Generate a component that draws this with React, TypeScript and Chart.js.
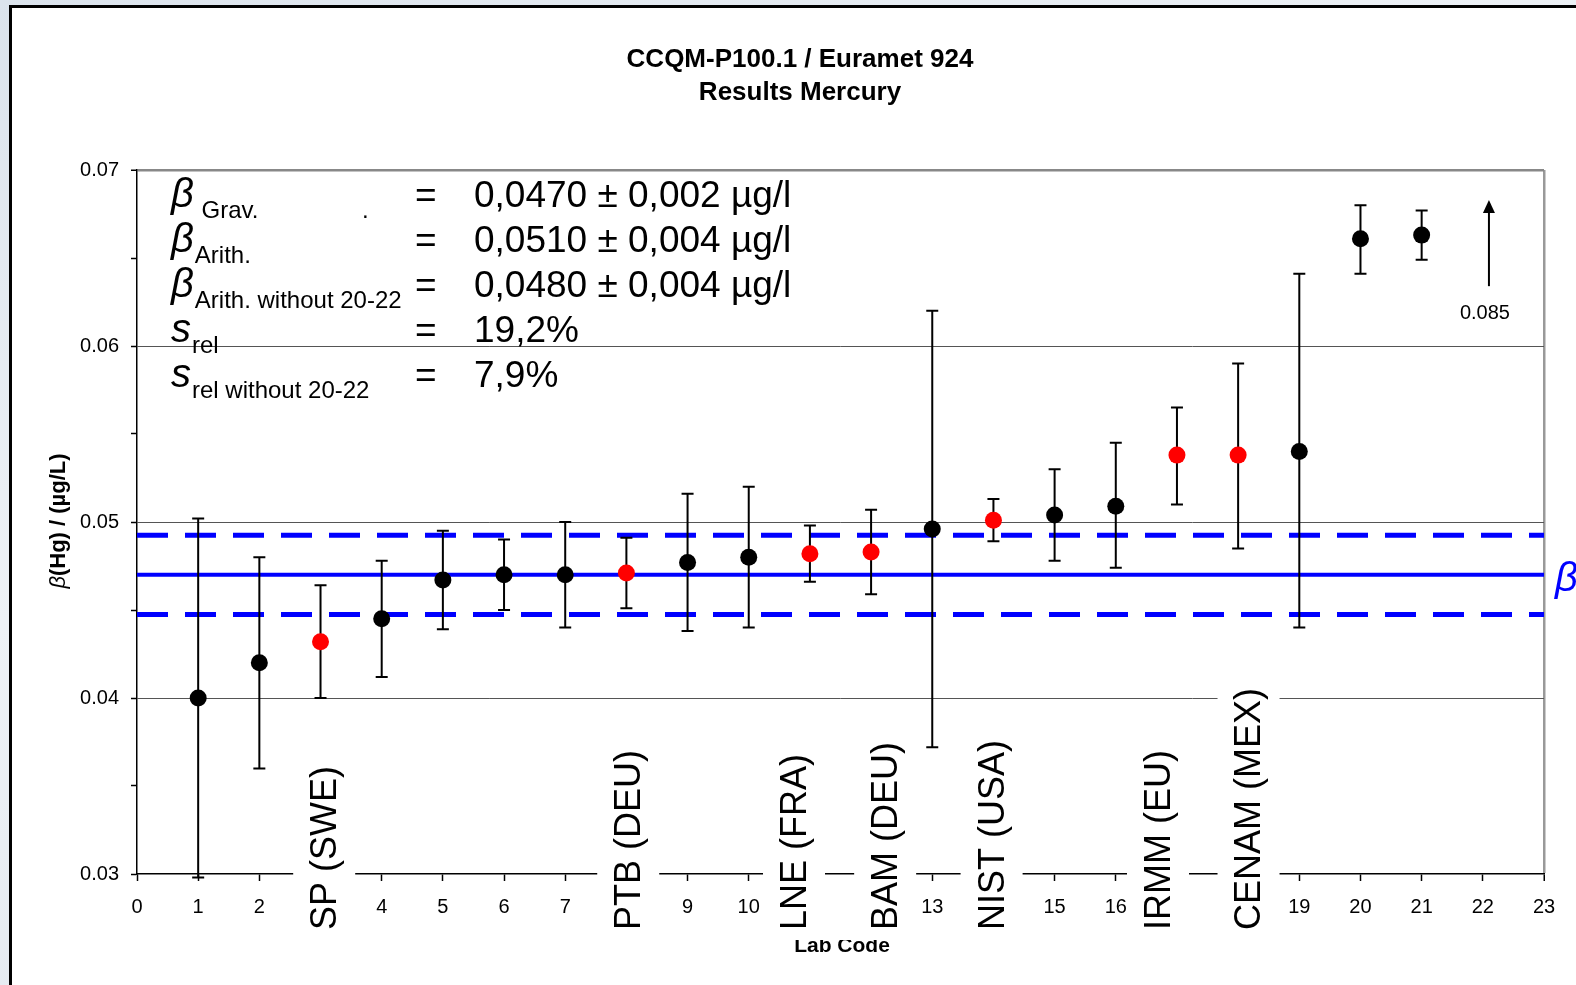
import React, { useEffect, useRef } from 'react';
import { Chart, registerables } from 'chart.js';

Chart.register(...registerables);

// ---------- data ----------
const labCodes = [1, 2, 3, 4, 5, 6, 7, 8, 9, 10, 11, 12, 13, 14, 15, 16, 17, 18, 19, 20, 21];
const results = [0.0400, 0.0420, 0.0432, 0.0445, 0.0467, 0.0470, 0.0470, 0.0471, 0.0477, 0.0480, 0.0482,
  0.0483, 0.0496, 0.0501, 0.0504, 0.0509, 0.0538, 0.0538, 0.0540, 0.0661, 0.0663];
const upperLimits = [0.0502, 0.0480, 0.0464, 0.0478, 0.0495, 0.0490, 0.0500, 0.0491, 0.0516, 0.0520, 0.0498,
  0.0507, 0.0620, 0.0513, 0.0530, 0.0545, 0.0565, 0.0590, 0.0641, 0.0680, 0.0677];
const lowerLimits = [0.0298, 0.0360, 0.0400, 0.0412, 0.0439, 0.0450, 0.0440, 0.0451, 0.0438, 0.0440, 0.0466,
  0.0459, 0.0372, 0.0489, 0.0478, 0.0474, 0.0510, 0.0485, 0.0440, 0.0641, 0.0649];
const highlightedLabs = [3, 8, 11, 12, 14, 17, 18];

const refValue = 0.0470;
const refUpper = 0.04925;
const refLower = 0.04475;

const yTickValues = [0.03, 0.04, 0.05, 0.06, 0.07];
const yTickLabels = ['0.03', '0.04', '0.05', '0.06', '0.07'];

const labNames = ['SP (SWE)', 'PTB (DEU)', 'LNE (FRA)', 'BAM (DEU)', 'NIST (USA)', 'IRMM (EU)', 'CENAM (MEX)'];
const labNameX = [3.06, 8.03, 10.74, 12.23, 13.97, 16.69, 18.17];

const arrowX = 22.1;
const arrowFrom = 0.0634;
const arrowTo = 0.0683;
const arrowLabel = '0.085';

const titleLines = ['CCQM-P100.1 / Euramet 924', 'Results Mercury'];
const xAxisTitle = 'Lab Code';
const yAxisTitleSymbol = 'β';
const yAxisTitleRest = '(Hg) / (µg/L)';
const refSymbol = 'β';

const summarySymbols = ['β', 'β', 'β', 's', 's'];
const summarySubs = [' Grav.', 'Arith.', 'Arith. without 20-22', 'rel', 'rel without 20-22'];
const summaryValues = ['0,0470 ± 0,002 µg/l', '0,0510 ± 0,004 µg/l', '0,0480 ± 0,004 µg/l', '19,2%', '7,9%'];

const FONT = '"Liberation Sans", Arial, sans-serif';

const isMajor = (v: number) => Math.round(v * 1000) % 10 === 0;

const overlayPlugin = {
  id: 'overlay',
  beforeDatasetDraw(chart: any, args: any) {
    if (args.index !== 0) return;
    const { ctx } = chart;
    const x = chart.scales.x;
    const y = chart.scales.y;
    ctx.save();
    ctx.strokeStyle = '#000';
    ctx.lineWidth = 2;
    labCodes.forEach((c, i) => {
      const px = x.getPixelForValue(c);
      const yt = y.getPixelForValue(upperLimits[i]);
      const yb = y.getPixelForValue(lowerLimits[i]);
      ctx.beginPath();
      ctx.moveTo(px, yt);
      ctx.lineTo(px, yb);
      ctx.moveTo(px - 6, yt);
      ctx.lineTo(px + 6, yt);
      ctx.moveTo(px - 6, yb);
      ctx.lineTo(px + 6, yb);
      ctx.stroke();
    });
    ctx.restore();
  },
  afterDraw(chart: any) {
    const { ctx } = chart;
    const x = chart.scales.x;
    const y = chart.scales.y;
    ctx.save();

    // title
    ctx.fillStyle = '#000';
    ctx.textAlign = 'center';
    ctx.textBaseline = 'middle';
    ctx.font = `bold 26px ${FONT}`;
    ctx.fillText(titleLines[0], 800, 60);
    ctx.fillText(titleLines[1], 800, 93);

    // summary block
    ctx.textAlign = 'left';
    ctx.textBaseline = 'alphabetic';
    summarySymbols.forEach((sym, r) => {
      const base = 207 + 45 * r;
      ctx.font = `italic 40px ${FONT}`;
      ctx.fillText(sym, 171, base);
      const symW = ctx.measureText(sym).width;
      ctx.font = `24px ${FONT}`;
      ctx.fillText(summarySubs[r], 171 + symW + 1, base + 11);
      ctx.font = `37px ${FONT}`;
      ctx.fillText('=', 415, base);
      ctx.fillText(summaryValues[r], 474, base);
    });
    ctx.font = `24px ${FONT}`;
    ctx.fillText('.', 362, 218);

    // arrow
    const ax = x.getPixelForValue(arrowX);
    const ay1 = y.getPixelForValue(arrowFrom);
    const ay2 = y.getPixelForValue(arrowTo);
    ctx.strokeStyle = '#000';
    ctx.lineWidth = 2;
    ctx.beginPath();
    ctx.moveTo(ax, ay1);
    ctx.lineTo(ax, ay2 + 12);
    ctx.stroke();
    ctx.beginPath();
    ctx.moveTo(ax, ay2);
    ctx.lineTo(ax - 6, ay2 + 13);
    ctx.lineTo(ax + 6, ay2 + 13);
    ctx.closePath();
    ctx.fillStyle = '#000';
    ctx.fill();
    ctx.font = `20px ${FONT}`;
    ctx.textAlign = 'center';
    ctx.textBaseline = 'middle';
    ctx.fillText(arrowLabel, ax - 4, 313);

    // right beta
    ctx.fillStyle = '#0000ff';
    ctx.font = `italic 40px ${FONT}`;
    ctx.textAlign = 'left';
    ctx.textBaseline = 'middle';
    ctx.fillText(refSymbol, 1555, y.getPixelForValue(refValue) + 5);

    // y axis title
    ctx.fillStyle = '#000';
    ctx.translate(59, 521);
    ctx.rotate(-Math.PI / 2);
    ctx.font = `italic 22px ${FONT}`;
    const w1 = ctx.measureText(yAxisTitleSymbol).width;
    ctx.font = `bold 22px ${FONT}`;
    const w2 = ctx.measureText(yAxisTitleRest).width;
    const start = -(w1 + w2) / 2;
    ctx.textAlign = 'left';
    ctx.textBaseline = 'middle';
    ctx.font = `italic 22px ${FONT}`;
    ctx.fillText(yAxisTitleSymbol, start, 0);
    ctx.font = `bold 22px ${FONT}`;
    ctx.fillText(yAxisTitleRest, start + w1, 0);
    ctx.setTransform(1, 0, 0, 1, 0, 0);

    // x axis title (top partly hidden)
    ctx.save();
    ctx.beginPath();
    ctx.rect(0, 940, 1576, 60);
    ctx.clip();
    ctx.font = `bold 21px ${FONT}`;
    ctx.textAlign = 'center';
    ctx.textBaseline = 'alphabetic';
    ctx.fillText(xAxisTitle, 842, 952);
    ctx.restore();

    // lab name labels with white boxes
    ctx.font = `36px ${FONT}`;
    labNames.forEach((name, i) => {
      const px = x.getPixelForValue(labNameX[i]);
      const w = ctx.measureText(name).width;
      const bottom = 930;
      ctx.fillStyle = '#fff';
      ctx.fillRect(px - 31, bottom - w - 6, 62, w + 10);
      ctx.save();
      ctx.translate(px + 2, bottom);
      ctx.rotate(-Math.PI / 2);
      ctx.fillStyle = '#000';
      ctx.textAlign = 'left';
      ctx.textBaseline = 'middle';
      ctx.fillText(name, 0, 0);
      ctx.restore();
    });

    ctx.restore();
  },
};

export default function App() {
  const canvasRef = useRef<HTMLCanvasElement | null>(null);

  useEffect(() => {
    const canvas = canvasRef.current;
    if (!canvas) return;
    const pointColors = labCodes.map((c) => (highlightedLabs.includes(c) ? '#ff0000' : '#000000'));
    const chart = new Chart(canvas, {
      type: 'scatter',
      data: {
        datasets: [
          {
            label: 'Results',
            data: labCodes.map((c, i) => ({ x: c, y: results[i] })),
            pointRadius: 8.5,
            pointBackgroundColor: pointColors,
            pointBorderWidth: 0,
            pointBorderColor: pointColors,
            order: 0,
            clip: false as any,
          },
          {
            label: 'Grav',
            data: [{ x: 0, y: refValue }, { x: 23, y: refValue }],
            showLine: true,
            borderColor: '#0000ff',
            borderWidth: 4,
            pointRadius: 0,
            order: 1,
          },
          {
            label: 'Upper',
            data: [{ x: 0, y: refUpper }, { x: 23, y: refUpper }],
            showLine: true,
            borderColor: '#0000ff',
            borderWidth: 5,
            borderDash: [31, 17],
            pointRadius: 0,
            order: 1,
          },
          {
            label: 'Lower',
            data: [{ x: 0, y: refLower }, { x: 23, y: refLower }],
            showLine: true,
            borderColor: '#0000ff',
            borderWidth: 5,
            borderDash: [31, 17],
            pointRadius: 0,
            order: 1,
          },
        ],
      },
      options: {
        animation: false,
        responsive: false,
        events: [],
        layout: { padding: { top: 170, right: 32, left: 0, bottom: 0 } },
        plugins: {
          legend: { display: false },
          tooltip: { enabled: false },
          title: { display: false },
        },
        scales: {
          x: {
            type: 'linear',
            min: 0,
            max: 23,
            afterFit: (s: any) => { s.height = 111; },
            ticks: {
              stepSize: 1,
              autoSkip: false,
              maxRotation: 0,
              color: '#000',
              padding: 14,
              font: { family: FONT, size: 20 },
            },
            grid: {
              color: (c: any) => (c.tick && c.tick.value === 23 ? '#999' : 'rgba(0,0,0,0)'),
              lineWidth: (c: any) => (c.tick && c.tick.value === 23 ? 2.5 : 1),
              tickColor: '#000',
              tickWidth: 1.5,
              tickLength: 7,
              drawTicks: true,
            },
            border: { display: true, color: '#000', width: 1.5 },
          },
          y: {
            type: 'linear',
            min: 0.03,
            max: 0.07,
            afterFit: (s: any) => { s.width = 137; },
            ticks: {
              stepSize: 0.005,
              color: '#000',
              padding: 12,
              font: { family: FONT, size: 20 },
              callback: (v: any) => {
                const idx = yTickValues.findIndex((t) => Math.abs(t - Number(v)) < 1e-6);
                return idx >= 0 ? yTickLabels[idx] : '';
              },
            },
            grid: {
              color: (c: any) => {
                const v = c.tick ? c.tick.value : 0;
                if (Math.abs(v - 0.07) < 1e-6) return '#888';
                if (Math.abs(v - 0.03) < 1e-6) return 'rgba(0,0,0,0)';
                return isMajor(v) ? '#555' : 'rgba(0,0,0,0)';
              },
              lineWidth: (c: any) => {
                const v = c.tick ? c.tick.value : 0;
                return Math.abs(v - 0.07) < 1e-6 ? 2.5 : 1;
              },
              tickColor: '#000',
              tickWidth: 1.5,
              tickLength: 6,
              drawTicks: true,
            },
            border: { display: true, color: '#000', width: 1.5 },
          },
        },
      },
      plugins: [overlayPlugin],
    } as any);
    return () => chart.destroy();
  }, []);

  return (
    <div
      style={{
        position: 'fixed',
        left: 0,
        top: 0,
        width: 1576,
        height: 985,
        overflow: 'hidden',
        background: 'linear-gradient(160deg, #dbe3ec 0%, #eef2f6 40%, #d9e1ea 100%)',
      }}
    >
      <div
        style={{
          position: 'absolute',
          left: 9,
          top: 5,
          width: 1620,
          height: 1020,
          border: '3px solid #000',
          background: '#fff',
        }}
      />
      <canvas
        ref={canvasRef}
        width={1576}
        height={985}
        style={{ position: 'absolute', left: 0, top: 0, width: 1576, height: 985 }}
      />
    </div>
  );
}
